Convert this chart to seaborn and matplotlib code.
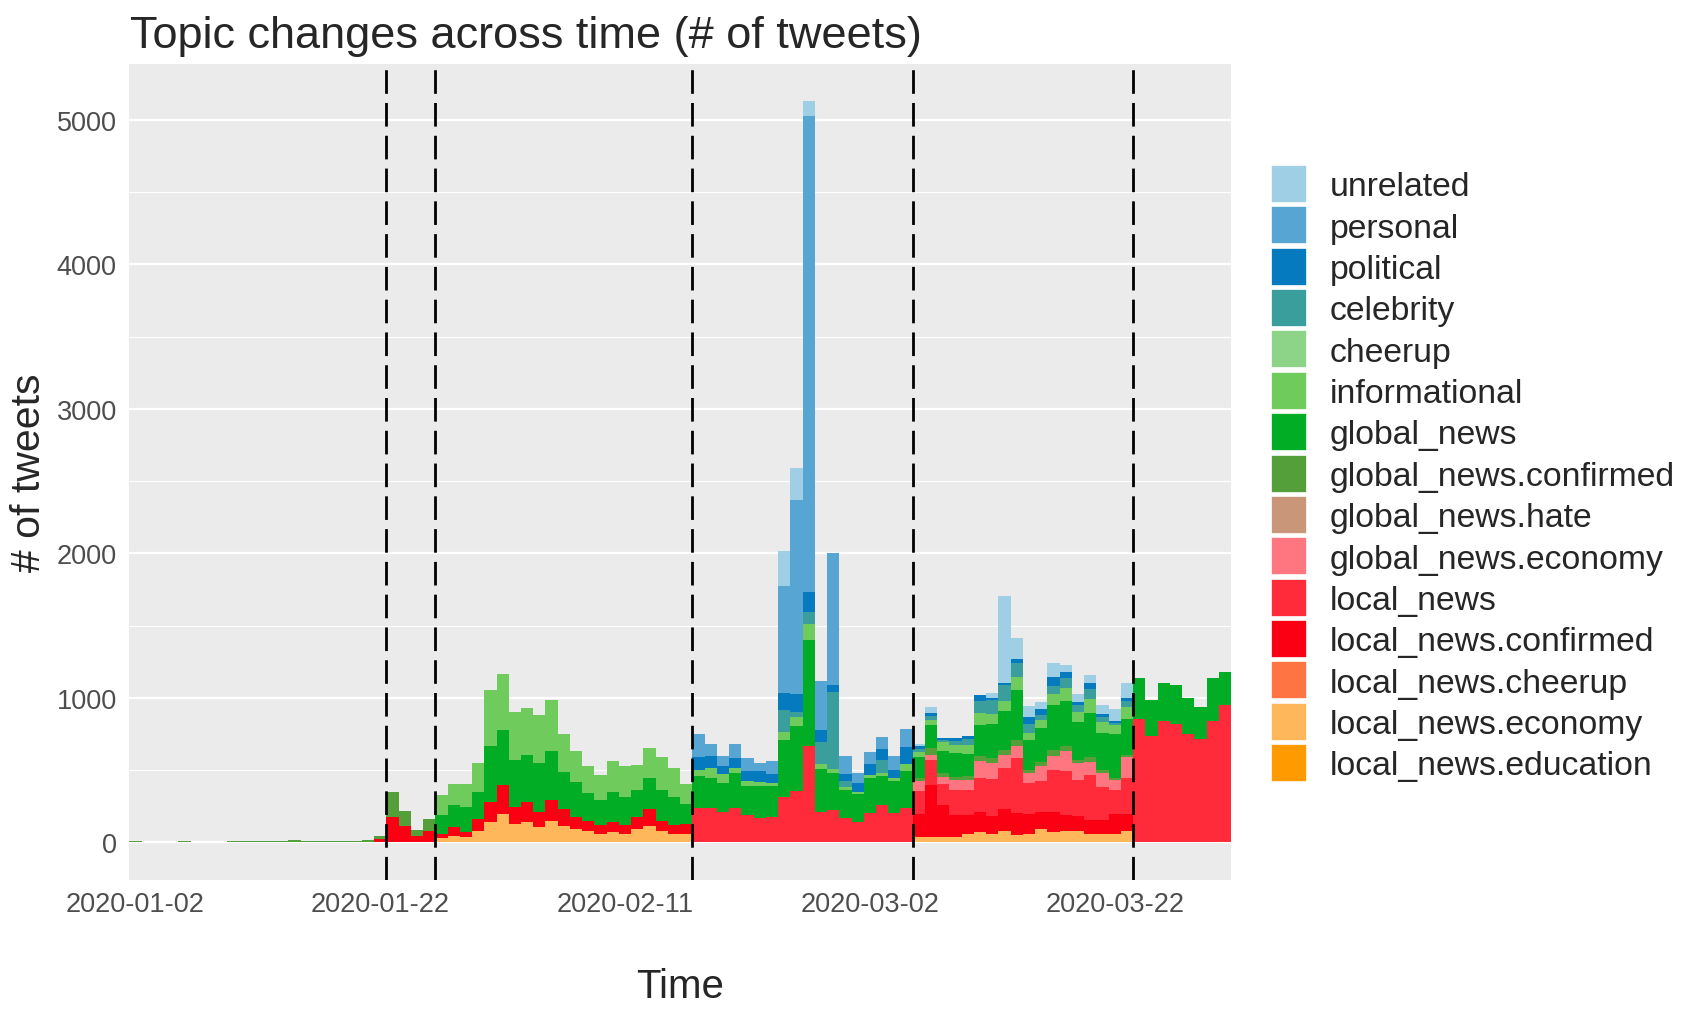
import numpy as np
import pandas as pd
import matplotlib
matplotlib.use("Agg")
import matplotlib.pyplot as plt
from matplotlib.patches import Patch
import seaborn as sns

# ---------------- data ----------------
# day index 0 = 2020-01-02, one bar per day (90 days)
days = list(range(90))

topics = ["unrelated", "personal", "political", "celebrity", "cheerup",
          "informational", "global_news", "global_news.confirmed",
          "global_news.hate", "global_news.economy", "local_news",
          "local_news.confirmed", "local_news.cheerup", "local_news.economy",
          "local_news.education"]

topic_colors = ["#9ECFE5", "#56A5D2", "#067ABF", "#3A9F9C", "#8DD488",
                "#6FCC5C", "#00AD24", "#549F3A", "#C9967A", "#FF7680",
                "#FF2B3A", "#FA0012", "#FF7442", "#FFB75B", "#FF9A00"]

unrelated = [0]*50 + [0, 0, 0, 246, 223, 108, 0, 0, 0, 0,
                      0, 0, 0, 0, 18, 41, 0, 0, 0, 0,
                      35, 599, 150, 76, 46, 99, 46, 58, 60, 62,
                      88, 104, 0, 0, 0, 0, 0, 0, 0, 0]
personal = [0]*46 + [161, 83, 69, 97,
                     92, 58, 92, 736, 1345, 3289, 340, 908, 127, 69,
                     85, 80, 92, 126] + [0]*26
political = [0]*46 + [87, 83, 58, 69,
                      69, 76, 58, 122, 122, 143, 80, 51, 46, 62,
                      74, 81, 62, 120, 16, 18, 12, 18, 18, 41,
                      12, 12, 28, 44, 39, 62, 46, 18, 37, 18,
                      12, 23, 0, 0, 0, 0, 0, 0, 0, 0]
celebrity = [0]*50 + [0, 0, 0, 150, 35, 80, 154, 536, 39, 0,
                      0, 85, 0, 0, 25, 32, 18, 28, 39, 85,
                      99, 115, 92, 65, 35, 53, 69, 46, 69, 39,
                      16, 39, 0, 0, 0, 0, 0, 0, 0, 0]
cheerup = [0]*90
informational = [0]*25 + [138, 150, 161, 200, 387,
                          389, 334, 323, 329, 352, 258, 212, 184, 177, 212,
                          212, 177, 212, 228, 200, 138, 46, 69, 58, 35,
                          35, 28, 23, 58, 58, 115, 35, 23, 23, 18,
                          18, 23, 18, 46, 35, 30, 58, 58, 65, 85,
                          67, 65, 92, 46, 58, 74, 92, 69, 99, 76,
                          58, 81, 0, 0, 0, 0, 0, 0, 0, 0]
global_news = [0]*25 + [129, 152, 175, 187, 389,
                        378, 327, 327, 340, 339, 260, 244, 191, 168, 210,
                        191, 187, 214, 210, 196, 138, 221, 212, 200, 246,
                        200, 223, 212, 389, 453, 727, 294, 260, 195, 189,
                        246, 200, 223, 258, 146, 161, 154, 166, 154, 214,
                        237, 272, 346, 207, 235, 316, 311, 265, 304, 253,
                        306, 253, 283, 250, 265, 270, 246, 225, 293, 230]
global_news_confirmed = [10, 0, 0, 0, 10, 0, 0, 0, 8, 8,
                         8, 8, 8, 20, 8, 8, 8, 8, 8, 20,
                         23, 175, 104, 41, 81] + [0]*39 + [
                         20, 46, 28, 23, 23, 30,
                         35, 32, 41, 23, 30, 41, 35, 23, 35, 23,
                         12, 14, 0, 0, 0, 0, 0, 0, 0, 0]
global_news_hate = [0]*90
global_news_economy = [0]*64 + [65, 35, 46, 69, 74, 120,
                                108, 92, 85, 69, 104, 92, 138, 115, 88, 94,
                                74, 143, 0, 0, 0, 0, 0, 0, 0, 0]
local_news = [0]*46 + [237, 237, 214, 237,
                       191, 168, 179, 317, 356, 671, 212, 223, 168, 145,
                       202, 260, 202, 237, 161, 173, 150, 168, 168, 235,
                       260, 281, 380, 214, 212, 293, 300, 249, 311, 228,
                       164, 249, 854, 738, 838, 822, 752, 715, 844, 952]
local_news_confirmed = [0]*20 + [23, 174, 116, 47, 82, 28, 62, 35, 81, 141,
                                 200, 117, 141, 106, 141, 115, 81, 69, 65, 69,
                                 65, 81, 115, 69, 60, 71] + [0]*18 + [
                                 157, 364, 221, 157, 134, 141,
                                 122, 152, 154, 138, 118, 141, 115, 108, 99, 99,
                                 138, 115, 0, 0, 0, 0, 0, 0, 0, 0]
local_news_cheerup = [0]*90
local_news_economy = [0]*25 + [31, 43, 36, 82, 139,
                               197, 128, 139, 105, 151, 116, 93, 82, 59, 70,
                               59, 93, 116, 82, 59, 59] + [0]*18 + [
                               40, 36, 36, 36, 59, 70,
                               59, 82, 50, 59, 93, 70, 77, 77, 59, 59,
                               59, 82, 0, 0, 0, 0, 0, 0, 0, 0]
local_news_education = [0]*90

series = [unrelated, personal, political, celebrity, cheerup, informational,
          global_news, global_news_confirmed, global_news_hate,
          global_news_economy, local_news, local_news_confirmed,
          local_news_cheerup, local_news_economy, local_news_education]

# phase boundaries (between days)
breakpoints = [20.5, 24.5, 45.5, 63.5, 81.5]

x_ticks = [0, 20, 40, 60, 80]
x_tick_labels = ["2020-01-02", "2020-01-22", "2020-02-11", "2020-03-02", "2020-03-22"]
y_ticks = [0, 1000, 2000, 3000, 4000, 5000]

# ---------------- frame ----------------
rows = []
for name, vals in zip(topics, series):
    for d, v in zip(days, vals):
        if v > 0:
            rows.append((d, name, v))
df = pd.DataFrame(rows, columns=["day", "topic", "count"])
palette = dict(zip(topics, topic_colors))

# ---------------- plot ----------------
sns.set_style("white")
plt.rcParams["font.family"] = ["Liberation Sans", "DejaVu Sans"]

W, H = 1700, 1020
fig = plt.figure(figsize=(W / 100, H / 100), dpi=100)
fig.patch.set_facecolor("white")
ax = fig.add_axes([129.3 / W, 1 - 880.5 / H, 1101.7 / W, 815.5 / H])
ax.set_facecolor("#EBEBEB")

sns.histplot(data=df, x="day", weights="count", hue="topic",
             hue_order=[t for t in topics if t in set(df["topic"])],
             palette=palette, multiple="stack", discrete=True,
             alpha=1, linewidth=0, legend=False, ax=ax)

for b in breakpoints:
    ax.axvline(b, color="black", linewidth=2.0, linestyle=(0, (8.5, 3.3)), zorder=5)

ax.set_xlim(-0.5, 89.5)
ax.set_ylim(-256, 5386)
ax.set_xticks(x_ticks)
ax.set_xticklabels(x_tick_labels)
ax.set_yticks(y_ticks)
ax.set_yticklabels([str(v) for v in y_ticks])
ax.set_yticks([500, 1500, 2500, 3500, 4500], minor=True)
ax.set_axisbelow(True)
ax.grid(False)
ax.yaxis.grid(True, which="major", color="white", linewidth=1.6)
ax.yaxis.grid(True, which="minor", color="white", linewidth=0.8)
ax.xaxis.grid(False)
for s in ax.spines.values():
    s.set_visible(False)
ax.tick_params(axis="both", which="major", length=4.7, width=1.1, color="#333333",
               labelsize=19.5, labelcolor="#4D4D4D")
ax.tick_params(axis="y", which="major", pad=4.3)
ax.tick_params(axis="x", which="major", pad=3.6)
ax.tick_params(axis="y", which="minor", length=0)

ax.set_xlabel("Time", fontsize=29, va="center")
ax.xaxis.set_label_coords(0.5, -0.1306)
ax.set_ylabel("# of tweets", fontsize=29.5, va="center")
ax.yaxis.set_label_coords(-0.091, 0.5)

fig.text(130 / W, 1 - 47.7 / H, "Topic changes across time (# of tweets)",
         fontsize=32.5, ha="left", va="baseline")

handles = [Patch(facecolor=c, edgecolor="white", linewidth=1.2) for c in topic_colors]
fig.legend(handles, topics, loc="upper left", bbox_to_anchor=(1271 / W, 1 - 166 / H),
           frameon=False, fontsize=24.3, handlelength=1.06, handleheight=1.355,
           handletextpad=0.68, labelspacing=0.1, borderpad=0, borderaxespad=0)

fig.savefig("out.png", dpi=100, facecolor="white")
